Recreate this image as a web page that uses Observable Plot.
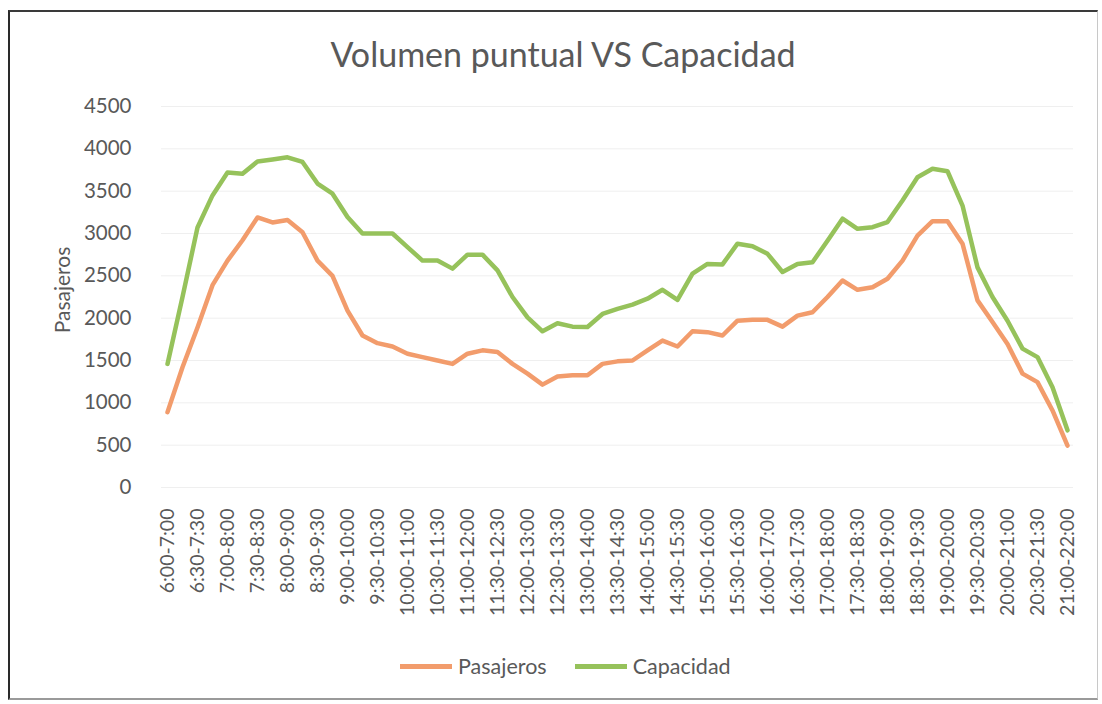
<!DOCTYPE html>
<html>
<head>
<meta charset="utf-8">
<script src="https://cdn.jsdelivr.net/npm/d3@7"></script>
<script src="https://cdn.jsdelivr.net/npm/@observablehq/plot@0.6"></script>
<style>
  html, body { margin: 0; padding: 0; background: #fff; }
  body { width: 1102px; height: 704px; overflow: hidden; position: relative; font-family: Lato, "Open Sans", sans-serif; color: #595959; }
  #frame { position: absolute; left: 8px; top: 10px; width: 1090px; height: 690px; box-sizing: border-box;
           border-left: 2px solid #2a2a2a; border-top: 2px solid #3a3a3a; border-right: 1px solid #c8c8c8; border-bottom: 2px solid #9a9a9a; }
  #chart { position: absolute; left: 0; top: 0; }
  #title { position: absolute; left: 0; width: 1126px; top: 37px; text-align: center; font-size: 34px; line-height: 34px; color: #595959; white-space: nowrap; }
  #ylabel { position: absolute; left: 61px; top: 290px; transform: translate(-50%, -50%) rotate(-90deg); font-size: 21px; line-height: 21px; white-space: nowrap; }
  #legend { position: absolute; top: 653px; left: 400px; font-size: 21.5px; line-height: 26px; white-space: nowrap; display: flex; align-items: center; }
  .sw { display: inline-block; width: 52px; height: 5px; margin-right: 6px; }
  .item { display: inline-flex; align-items: center; margin-right: 28px; }
</style>
</head>
<body>
<div id="chart"></div>
<div id="frame"></div>
<div id="title">Volumen puntual VS Capacidad</div>
<div id="ylabel">Pasajeros</div>
<div id="legend"></div>
<script>
// ---- Data ----
const categories = [
  "6:00-7:00","6:15-7:15","6:30-7:30","6:45-7:45","7:00-8:00","7:15-8:15","7:30-8:30","7:45-8:45",
  "8:00-9:00","8:15-9:15","8:30-9:30","8:45-9:45","9:00-10:00","9:15-10:15","9:30-10:30","9:45-10:45",
  "10:00-11:00","10:15-11:15","10:30-11:30","10:45-11:45","11:00-12:00","11:15-12:15","11:30-12:30","11:45-12:45",
  "12:00-13:00","12:15-13:15","12:30-13:30","12:45-13:45","13:00-14:00","13:15-14:15","13:30-14:30","13:45-14:45",
  "14:00-15:00","14:15-15:15","14:30-15:30","14:45-15:45","15:00-16:00","15:15-16:15","15:30-16:30","15:45-16:45",
  "16:00-17:00","16:15-17:15","16:30-17:30","16:45-17:45","17:00-18:00","17:15-18:15","17:30-18:30","17:45-18:45",
  "18:00-19:00","18:15-19:15","18:30-19:30","18:45-19:45","19:00-20:00","19:15-20:15","19:30-20:30","19:45-20:45",
  "20:00-21:00","20:15-21:15","20:30-21:30","20:45-21:45","21:00-22:00"
];
const pasajeros = [
  890, 1420, 1890, 2390, 2680, 2920, 3190, 3130, 3160, 3015, 2680, 2500, 2090, 1795, 1705, 1665,
  1580, 1540, 1500, 1460, 1580, 1620, 1600, 1460, 1345, 1215, 1310, 1325, 1325, 1460, 1490, 1500,
  1620, 1735, 1665, 1845, 1835, 1795, 1970, 1980, 1980, 1900, 2030, 2070, 2250, 2445, 2335, 2365,
  2465, 2680, 2975, 3145, 3145, 2880, 2210, 1955, 1695, 1345, 1245, 910, 495
];
const capacidad = [
  1460, 2250, 3070, 3450, 3720, 3705, 3850, 3875, 3900, 3845, 3590, 3470, 3195, 3000, 3000, 3000,
  2840, 2680, 2680, 2585, 2750, 2750, 2565, 2250, 2010, 1845, 1940, 1900, 1895, 2050, 2110, 2160,
  2230, 2335, 2215, 2525, 2640, 2635, 2880, 2850, 2760, 2545, 2640, 2660, 2915, 3175, 3055, 3075,
  3135, 3390, 3665, 3765, 3735, 3330, 2600, 2250, 1970, 1640, 1540, 1185, 675
];
const xTickLabels = [
  "6:00-7:00","6:30-7:30","7:00-8:00","7:30-8:30","8:00-9:00","8:30-9:30","9:00-10:00","9:30-10:30",
  "10:00-11:00","10:30-11:30","11:00-12:00","11:30-12:30","12:00-13:00","12:30-13:30","13:00-14:00","13:30-14:30",
  "14:00-15:00","14:30-15:30","15:00-16:00","15:30-16:30","16:00-17:00","16:30-17:30","17:00-18:00","17:30-18:30",
  "18:00-19:00","18:30-19:30","19:00-20:00","19:30-20:30","20:00-21:00","20:30-21:30","21:00-22:00"
];
const yTicks = [0, 500, 1000, 1500, 2000, 2500, 3000, 3500, 4000, 4500];
const seriesNames = ["Pasajeros", "Capacidad"];
const seriesColors = ["#F29C6C", "#96C25B"];

// ---- Build long table ----
const rows = [];
categories.forEach((c, i) => {
  rows.push({cat: c, serie: seriesNames[0], value: pasajeros[i]});
  rows.push({cat: c, serie: seriesNames[1], value: capacidad[i]});
});

const chart = Plot.plot({
  width: 1102,
  height: 704,
  marginLeft: 161,
  marginRight: 29,
  marginTop: 106,
  marginBottom: 217,
  style: {fontFamily: "Lato, 'Open Sans', sans-serif", color: "#595959", background: "transparent"},
  x: {type: "point", domain: categories, padding: 0},
  y: {domain: [0, 4500]},
  color: {domain: seriesNames, range: seriesColors},
  marks: [
    Plot.gridY(yTicks, {stroke: "#efefef", strokeOpacity: 1, strokeWidth: 1}),
    Plot.axisY({ticks: yTicks, tickFormat: (d) => String(d), tickSize: 0, tickPadding: 30, fontSize: 20.5, label: null, color: "#595959"}),
    Plot.axisX({ticks: xTickLabels, tickSize: 0, tickPadding: 21, tickRotate: -90, fontSize: 19.5, label: null, color: "#595959"}),
    Plot.line(rows, {x: "cat", y: "value", z: "serie", stroke: "serie", strokeWidth: 4.5, strokeLinejoin: "round", strokeLinecap: "round"})
  ]
});
document.getElementById("chart").appendChild(chart);

// ---- Legend ----
const legend = document.getElementById("legend");
seriesNames.forEach((name, i) => {
  const item = document.createElement("span");
  item.className = "item";
  const sw = document.createElement("span");
  sw.className = "sw";
  sw.style.background = seriesColors[i];
  const t = document.createElement("span");
  t.textContent = name;
  item.appendChild(sw);
  item.appendChild(t);
  legend.appendChild(item);
});
</script>
</body>
</html>
